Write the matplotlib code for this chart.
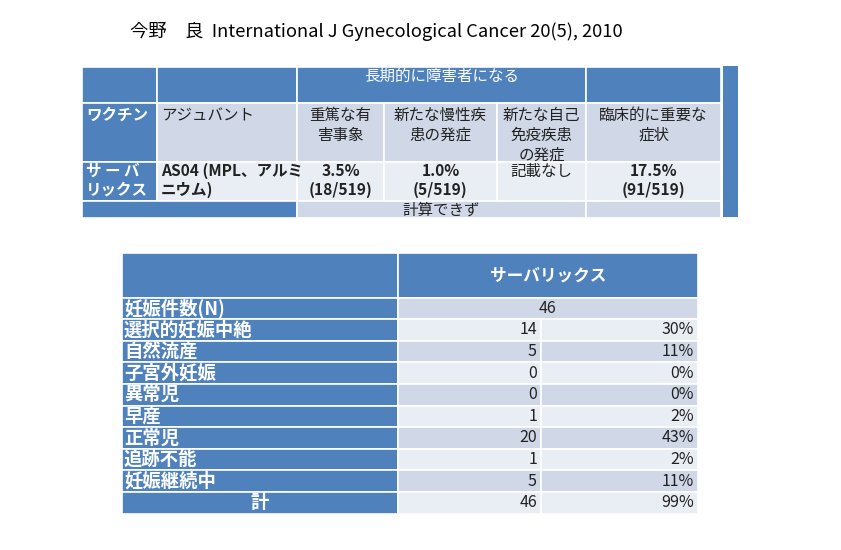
import matplotlib
matplotlib.use("Agg")
import matplotlib.pyplot as plt
from matplotlib.patches import Rectangle

plt.rcParams['font.family'] = ['Noto Sans CJK JP', 'DejaVu Sans']

BLUE = "#4f81bd"
DARK = "#d0d8e8"
LIGHT = "#e9edf4"
TXT = "#222222"

title = "今野　良  International J Gynecological Cancer 20(5), 2010"

# top table
top_group = "長期的に障害者になる"
top_cols = ["ワクチン", "アジュバント", "重篤な有\n害事象", "新たな慢性疾\n患の発症",
            "新たな自己\n免疫疾患\nの発症", "臨床的に重要な\n症状"]
top_row = ["サ ー バ\nリックス", "AS04 (MPL、アルミ\nニウム)", "3.5%\n(18/519)",
           "1.0%\n(5/519)", "記載なし", "17.5%\n(91/519)"]
top_bold = [True, True, True, True, False, True]
top_note = "計算できず"

# bottom table
vaccine = "サーバリックス"
categories = ["妊娠件数(N)", "選択的妊娠中絶", "自然流産", "子宮外妊娠", "異常児",
              "早産", "正常児", "追跡不能", "妊娠継続中", "計"]
counts = [46, 14, 5, 0, 0, 1, 20, 1, 5, 46]
pcts = [None, 30, 11, 0, 0, 2, 43, 2, 11, 99]

fig = plt.figure(figsize=(8.41, 5.5), dpi=100)
ax = fig.add_axes([0, 0, 1, 1])
ax.set_xlim(0, 841)
ax.set_ylim(550, 0)
ax.axis("off")


def cell(x0, y0, x1, y1, color):
    ax.add_patch(Rectangle((x0, y0), x1 - x0, y1 - y0, facecolor=color,
                           edgecolor="white", linewidth=1.2))


ax.text(130, 31, title, fontsize=13.2, va="center", ha="left", color="black")

# ---- top table ----
xs = [82, 157, 297, 384, 497, 586, 721]
ys = [67, 103, 162, 201, 218]
FS = 11.2
pad = [4, 1]

# blue strip on the right
ax.add_patch(Rectangle((723, 66), 15, 151, facecolor=BLUE, edgecolor="none"))

# row 1
cell(xs[0], ys[0], xs[1], ys[1], BLUE)
cell(xs[1], ys[0], xs[2], ys[1], BLUE)
cell(xs[2], ys[0], xs[5], ys[1], BLUE)
cell(xs[5], ys[0], xs[6], ys[1], BLUE)
ax.text((xs[2] + xs[5]) / 2, ys[0] + 1, top_group, color="white", fontsize=FS,
        ha="center", va="top")

# row 2 and 3
for r, (labels, shade) in enumerate([(top_cols, DARK), (top_row, LIGHT)]):
    y0, y1 = ys[r + 1], ys[r + 2]
    for c, lab in enumerate(labels):
        color = BLUE if c == 0 else shade
        cell(xs[c], y0, xs[c + 1], y1, color)
        if c < 2:
            bold = c == 0 or r == 1
            ax.text(xs[c] + 4, y0 + pad[r], lab, color="white" if c == 0 else TXT,
                    fontsize=FS, ha="left", va="top", linespacing=1.22,
                    fontweight="bold" if bold else "normal")
        else:
            bold = r == 1 and top_bold[c]
            ax.text((xs[c] + xs[c + 1]) / 2, y0 + pad[r], lab, color=TXT, fontsize=FS,
                    ha="center", va="top", linespacing=1.22, multialignment="center",
                    fontweight="bold" if bold else "normal")

# row 4
cell(xs[0], ys[3], xs[2], ys[4], BLUE)
cell(xs[2], ys[3], xs[5], ys[4], DARK)
cell(xs[5], ys[3], xs[6], ys[4], DARK)
ax.text((xs[2] + xs[5]) / 2, (ys[3] + ys[4]) / 2 + 1, top_note, color=TXT, fontsize=FS,
        ha="center", va="center")

# ---- bottom table ----
bx = [122, 398, 541, 698]
hy0, hy1 = 253, 297.5
rh = 21.6

cell(bx[0], hy0, bx[1], hy1, BLUE)
cell(bx[1], hy0, bx[3], hy1, BLUE)
ax.text((bx[1] + bx[3]) / 2, (hy0 + hy1) / 2, vaccine, color="white", fontsize=12,
        fontweight="bold", ha="center", va="center")

for i, (cat, n, p) in enumerate(zip(categories, counts, pcts)):
    y0 = hy1 + i * rh
    y1 = y0 + rh
    yc = (y0 + y1) / 2
    shade = DARK if i % 2 == 0 else LIGHT
    cell(bx[0], y0, bx[1], y1, BLUE)
    if cat == "計":
        ax.text((bx[0] + bx[1]) / 2, yc, cat, color="white", fontsize=13.2,
                fontweight="bold", ha="center", va="center")
    else:
        ax.text(bx[0] + 2, yc, cat, color="white", fontsize=13.2,
                fontweight="bold", ha="left", va="center")
    if p is None:
        cell(bx[1], y0, bx[3], y1, shade)
        ax.text((bx[1] + bx[3]) / 2, yc, str(n), color=TXT, fontsize=11.5,
                ha="center", va="center")
    else:
        cell(bx[1], y0, bx[2], y1, shade)
        cell(bx[2], y0, bx[3], y1, shade)
        ax.text(bx[2] - 4, yc, str(n), color=TXT, fontsize=11.5,
                ha="right", va="center")
        ax.text(bx[3] - 4, yc, f"{p}%", color=TXT, fontsize=11.5,
                ha="right", va="center")

fig.savefig("out.png", dpi=100)
